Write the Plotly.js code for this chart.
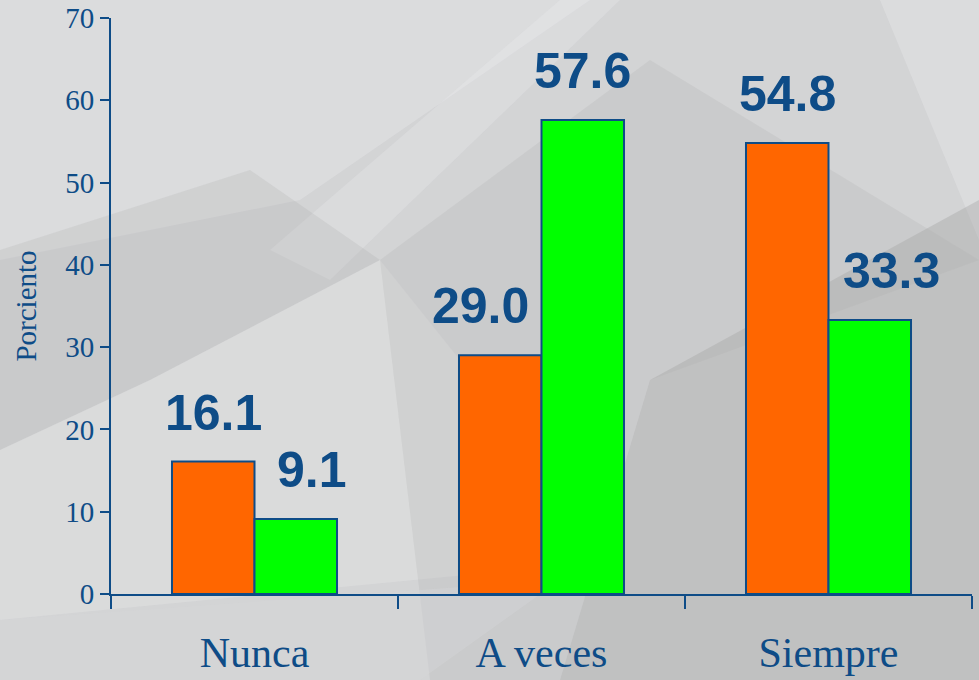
<!DOCTYPE html>
<html>
<head>
<meta charset="utf-8">
<script src="https://cdn.plot.ly/plotly-3.0.1.min.js"></script>
<style>
html,body{margin:0;padding:0;background:#d3d4d5;}
#chart{width:979px;height:680px;}
</style>
</head>
<body>
<div id="chart"></div>
<script>
// ---- data ----
var categories = ["Nunca", "A veces", "Siempre"];
var seriesOrange = [16.1, 29.0, 54.8];
var seriesGreen = [9.1, 57.6, 33.3];
var yTicks = [0, 10, 20, 30, 40, 50, 60, 70];

// ---- style ----
var NAVY = "#0E4C87";
var W = 979, H = 680;
var L = 111, R = 7, T = 18, B = 86;
var pw = W - L - R, ph = H - T - B;
function px(x){ return (x - L) / pw; }
function py(y){ return (H - B - y) / ph; }
function poly(pts, fill){
  var d = pts.map(function(p, i){ return (i ? "L" : "M") + px(p[0]) + "," + py(p[1]); }).join(" ") + " Z";
  return {type:"path", xref:"paper", yref:"paper", path:d, fillcolor:fill, line:{width:0}, layer:"below"};
}
var bgShapes = [
  poly([[0,0],[590,0],[300,200],[0,260]], "rgba(235,236,237,0.35)"),
  poly([[560,0],[620,0],[330,280],[270,250]], "rgba(240,241,242,0.25)"),
  poly([[700,0],[979,0],[979,240],[880,0]], "rgba(235,236,237,0.35)"),
  poly([[0,250],[250,170],[380,260],[150,380],[0,450]], "rgba(165,166,167,0.20)"),
  poly([[0,450],[150,380],[380,260],[620,560],[0,620]], "rgba(238,239,240,0.25)"),
  poly([[560,680],[650,380],[979,200],[979,680]], "rgba(150,150,150,0.30)"),
  poly([[380,260],[650,60],[979,260],[650,380],[560,680],[430,680]], "rgba(170,171,172,0.20)"),
  poly([[0,620],[560,580],[420,680],[0,680]], "rgba(215,216,217,0.35)")
];

var barLine = {color: NAVY, width: 2};
var traces = [
  {type:"bar", x:categories, y:seriesOrange, marker:{color:"#FF6600", line:barLine}, hoverinfo:"none"},
  {type:"bar", x:categories, y:seriesGreen, marker:{color:"#00FF00", line:barLine}, hoverinfo:"none"}
];

var barHalf = 41;
var nudgeOrange = [0, -20, 0];
var nudgeGreen = [16, 0, 22];
var labelFont = {family:"Liberation Sans, Arial, sans-serif", size:50, color:NAVY, weight:"bold"};
var annotations = [];
categories.forEach(function(c, i){
  annotations.push({x:c, y:seriesOrange[i], xref:"x", yref:"y", text:seriesOrange[i].toFixed(1),
    showarrow:false, yanchor:"bottom", xshift:-barHalf + nudgeOrange[i], yshift:19, font:labelFont});
  annotations.push({x:c, y:seriesGreen[i], xref:"x", yref:"y", text:seriesGreen[i].toFixed(1),
    showarrow:false, yanchor:"bottom", xshift:barHalf + nudgeGreen[i], yshift:19, font:labelFont});
});

var serif = "Liberation Serif, Times New Roman, serif";
var layout = {
  width: W, height: H,
  margin: {l:L, r:R, t:T, b:B, pad:0},
  paper_bgcolor: "#d3d4d5",
  plot_bgcolor: "rgba(0,0,0,0)",
  showlegend: false,
  barmode: "group",
  bargap: 0.425,
  bargroupgap: 0,
  font: {family:serif, color:NAVY},
  xaxis: {
    type:"category", showgrid:false, zeroline:false,
    showline:true, linecolor:NAVY, linewidth:2,
    ticks:"outside", tickson:"boundaries", ticklen:13, tickwidth:2, tickcolor:NAVY,
    tickfont:{size:42, color:NAVY, family:serif},
    ticklabelstandoff: 21
  },
  yaxis: {
    range:[0,70], tickvals:yTicks, showgrid:false, zeroline:false,
    showline:true, linecolor:NAVY, linewidth:2,
    ticks:"outside", ticklen:9, tickwidth:2, tickcolor:NAVY,
    tickfont:{size:29, color:NAVY, family:serif},
    title:{text:"Porciento", font:{size:29, color:NAVY, family:serif}, standoff:20}
  },
  shapes: bgShapes,
  annotations: annotations
};

Plotly.newPlot("chart", traces, layout, {displayModeBar:false, staticPlot:true});
</script>
</body>
</html>
